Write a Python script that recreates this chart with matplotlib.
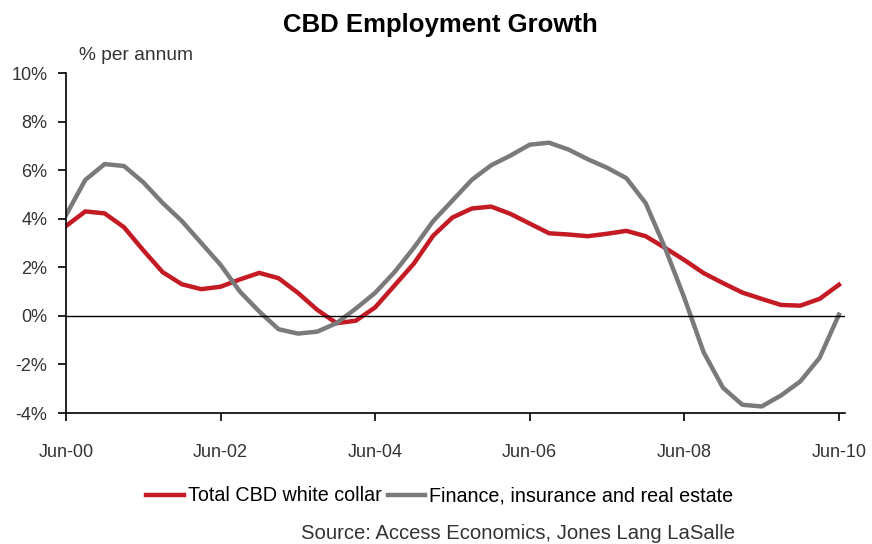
import numpy as np
import matplotlib
matplotlib.use('Agg')
import matplotlib.pyplot as plt
from matplotlib import font_manager

# quarterly observations, Jun-00 .. Jun-10
quarters = np.arange(41)
tick_pos = [0, 8, 16, 24, 32, 40]
tick_labels = ['Jun-00', 'Jun-02', 'Jun-04', 'Jun-06', 'Jun-08', 'Jun-10']

white_collar = [3.7, 4.3, 4.22, 3.65, 2.7, 1.8, 1.3, 1.1, 1.2, 1.5,
                1.77, 1.55, 0.95, 0.25, -0.3, -0.2, 0.35, 1.25, 2.15, 3.3,
                4.05, 4.42, 4.5, 4.2, 3.8, 3.4, 3.35, 3.28, 3.38, 3.5,
                3.28, 2.8, 2.3, 1.76, 1.35, 0.96, 0.7, 0.45, 0.42, 0.7, 1.28]
finance = [4.15, 5.6, 6.25, 6.17, 5.5, 4.65, 3.9, 3.0, 2.1, 1.0,
           0.18, -0.55, -0.73, -0.65, -0.3, 0.3, 0.95, 1.8, 2.8, 3.9,
           4.75, 5.6, 6.2, 6.6, 7.05, 7.13, 6.85, 6.45, 6.1, 5.67,
           4.64, 2.8, 0.74, -1.5, -2.96, -3.66, -3.73, -3.28, -2.7, -1.73, 0.05]

names = {f.name for f in font_manager.fontManager.ttflist}
fam = 'Liberation Sans Narrow' if 'Liberation Sans Narrow' in names else 'Liberation Sans'
plt.rcParams['font.family'] = [fam, 'DejaVu Sans']

fig = plt.figure(figsize=(8.72, 5.44), dpi=100)
ax = fig.add_axes([0.0757, 0.2408, 0.893, 0.625])

ax.plot(quarters, white_collar, color='#c41a24', lw=3.2, label='Total CBD white collar',
        solid_joinstyle='round')
ax.plot(quarters, finance, color='#7a7a7a', lw=3.2, label='Finance, insurance and real estate',
        solid_joinstyle='round')
ax.axhline(0, color='black', lw=1)

ax.set_xlim(0, 40.3)
ax.set_ylim(-4, 10)
ax.set_yticks(np.arange(-4, 11, 2))
ax.set_yticklabels(['%d%%' % v for v in range(-4, 11, 2)])
ax.set_xticks(tick_pos)
ax.set_xticklabels(tick_labels)

for s in ['top', 'right']:
    ax.spines[s].set_visible(False)
for s in ['left', 'bottom']:
    ax.spines[s].set_linewidth(1.2)
ax.tick_params(axis='both', direction='out', length=6, width=1.2,
               labelsize=13, labelcolor='#333333')
ax.tick_params(axis='x', pad=16.5)
ax.tick_params(axis='y', pad=7.5)

fig.text(0.505, 0.954, 'CBD Employment Growth', ha='center', va='center',
         fontsize=18.5, fontweight='bold')
fig.text(0.091, 0.898, '% per annum', ha='left', va='center', fontsize=13.8,
         color='#333333')

ax.legend(loc='center', bbox_to_anchor=(0.48, -0.244), ncol=2, frameon=False,
          fontsize=14.2, handlelength=1.9, handletextpad=0.2, columnspacing=0.3)
fig.text(0.843, 0.0202, 'Source: Access Economics, Jones Lang LaSalle', ha='right',
         va='center', fontsize=14.6, color='#333333')

fig.savefig('out.png', dpi=100)
